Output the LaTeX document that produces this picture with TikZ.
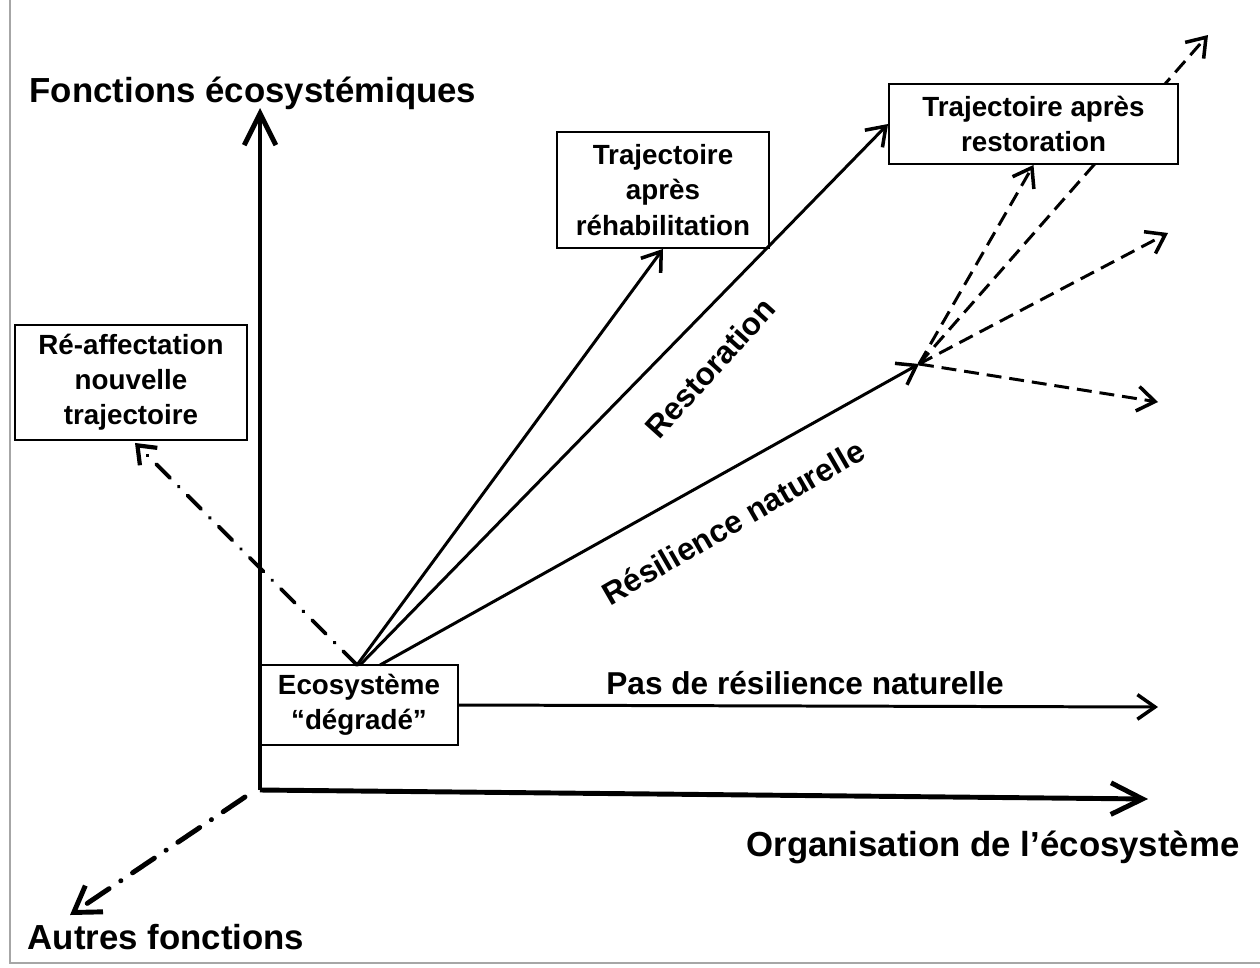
\documentclass[tikz,border=0pt]{standalone}
\usepackage{fontspec}
\setmainfont{Liberation Sans}
\usetikzlibrary{arrows.meta}
\tikzset{
  px/.style={x=0.02cm,y=-0.02cm},
  boxnode/.style={draw,line width=1.1pt,fill=white,align=center,inner sep=2pt,
    font=\bfseries\fontsize{15.8}{20}\selectfont},
  titletext/.style={font=\bfseries\fontsize{19.8}{24}\selectfont,inner sep=0pt},
  labeltext/.style={font=\bfseries\fontsize{18}{22}\selectfont,inner sep=0pt},
  axis/.style={line width=2.8pt,-{Straight Barb[length=18pt,width=18pt]}},
  traj/.style={line width=1.7pt,-{Straight Barb[length=10pt,width=14pt,line width=2pt]}},
  dashtraj/.style={line width=1.7pt,dash pattern=on 8.5pt off 4.5pt,-{Straight Barb[length=10pt,width=14pt,line width=2pt]}},
  dashdotthin/.style={line width=2.2pt,dash pattern=on 11pt off 7pt on 0.1pt off 7pt,line cap=round,-{Straight Barb[length=9pt,width=14pt,line width=2.4pt]}},
  dashdotthick/.style={line width=2.8pt,dash pattern=on 15pt off 8pt on 0.1pt off 8pt,line cap=round,-{Straight Barb[length=14pt,width=18pt]}},
}
\begin{document}
\begin{tikzpicture}[px]
\useasboundingbox (0,0) rectangle (1260,967);
\fill[white] (0,0) rectangle (1260,967);
% screenshot frame
\draw[line width=1.2pt,gray!70] (10,0) -- (10,963) -- (1260,963);

% coordinates
\coordinate (O) at (260,790);
\coordinate (ytip) at (260,108);
\coordinate (xtip) at (1148,799);
\coordinate (zstart) at (245,797);
\coordinate (ztip) at (70,915);
\coordinate (fork) at (919,364);
\coordinate (d1) at (1208,35);
\coordinate (d2) at (1168,233);
\coordinate (d3) at (1158,402);
\coordinate (s1) at (357,665);
\coordinate (s2) at (360,665);
\coordinate (s3) at (380,665);
\coordinate (pastip) at (1158,707);

% dashed arrow passing behind the restoration box
\draw[dashtraj] (fork) -- (d1);

% boxes
\node[boxnode,minimum width=3.96cm,minimum height=1.6cm] (eco) at (359,705) {Ecosystème\\“dégradé”};
\node[boxnode,minimum width=4.64cm,minimum height=2.3cm] (reaff) at (131,382.5) {Ré-affectation\\nouvelle\\trajectoire};
\node[boxnode,minimum width=4.24cm,minimum height=2.32cm] (rehab) at (663,190) {Trajectoire\\après\\réhabilitation};
\node[boxnode,minimum width=5.78cm,minimum height=1.6cm] (resto) at (1033.5,124) {Trajectoire après\\restoration};

% axes
\draw[axis] (O) -- (ytip);
\draw[axis] (O) -- (xtip);
\draw[dashdotthick] (zstart) -- (ztip);

% trajectories
\draw[dashdotthin] (s1) -- ([xshift=0.08cm,yshift=-0.04cm]reaff.south);
\draw[traj] (s1) -- (rehab.south);
\draw[traj] (s2) -- (resto.west);
\draw[traj] (s3) -- (fork);
\draw[traj] (eco.east) -- (pastip);
\draw[dashtraj] (fork) -- (resto.south);
\draw[dashtraj] (fork) -- (d2);
\draw[dashtraj] (fork) -- (d3);

% labels
\node[titletext] (fe) at (253,93) {Fonctions écosystémiques};
\node[titletext] (oe) at (993,847) {Organisation de l’écosystème};
\node[titletext] (af) at (166,937) {Autres fonctions};
\node[labeltext] (pas) at (805,683) {Pas de résilience naturelle};
\node[labeltext,rotate=48] (rest) at (710,368) {Restoration};
\node[labeltext,rotate=30] (resi) at (733,522) {Résilience naturelle};
\end{tikzpicture}
\end{document}
